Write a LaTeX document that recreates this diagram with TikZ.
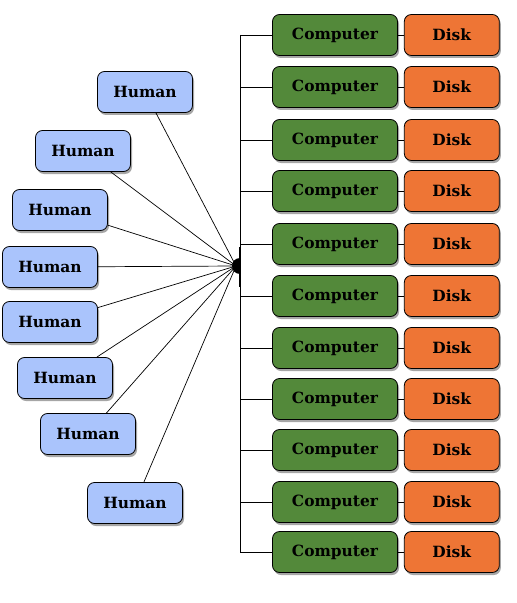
\documentclass[tikz,border=0pt]{standalone}
\usepackage{fontspec}
\setmainfont{DejaVu Serif}
\usetikzlibrary{positioning,shadows}

\definecolor{humanblue}{RGB}{170,196,252}
\definecolor{compgreen}{RGB}{83,137,58}
\definecolor{diskorange}{RGB}{238,117,53}

\tikzset{
  box/.style={draw=black, line width=0.8bp, rounded corners=7bp,
    minimum height=41bp, inner sep=0pt,
    font=\bfseries\fontsize{15.5}{18}\selectfont,
    drop shadow={shadow xshift=1.5bp, shadow yshift=-2.5bp,
      fill=black, opacity=0.35}},
  human/.style={box, fill=humanblue, minimum width=95bp},
  computer/.style={box, fill=compgreen, minimum width=125bp},
  disk/.style={box, fill=diskorange, minimum width=95bp},
  wire/.style={line width=0.7bp}
}

\begin{document}
\begin{tikzpicture}[x=1bp, y=-1bp]
          \useasboundingbox (0,0) rectangle (517,603);

          % Computers with their disks
          \node[computer] (c1) at (335,35) {Computer};
          \node[disk, right=6bp of c1] (d1) {Disk};
          \node[computer] (c2) at (335,87) {Computer};
          \node[disk, right=6bp of c2] (d2) {Disk};
          \node[computer] (c3) at (335,140) {Computer};
          \node[disk, right=6bp of c3] (d3) {Disk};
          \node[computer] (c4) at (335,191) {Computer};
          \node[disk, right=6bp of c4] (d4) {Disk};
          \node[computer] (c5) at (335,244) {Computer};
          \node[disk, right=6bp of c5] (d5) {Disk};
          \node[computer] (c6) at (335,296) {Computer};
          \node[disk, right=6bp of c6] (d6) {Disk};
          \node[computer] (c7) at (335,348) {Computer};
          \node[disk, right=6bp of c7] (d7) {Disk};
          \node[computer] (c8) at (335,399) {Computer};
          \node[disk, right=6bp of c8] (d8) {Disk};
          \node[computer] (c9) at (335,450) {Computer};
          \node[disk, right=6bp of c9] (d9) {Disk};
          \node[computer] (c10) at (335,502) {Computer};
          \node[disk, right=6bp of c10] (d10) {Disk};
          \node[computer] (c11) at (335,552) {Computer};
          \node[disk, right=6bp of c11] (d11) {Disk};

          % Humans fanned round the hub
          \node[human] (h1) at (145,92) {Human};
          \node[human] (h2) at (83,151) {Human};
          \node[human] (h3) at (60,210) {Human};
          \node[human] (h4) at (50,267) {Human};
          \node[human] (h5) at (50,322) {Human};
          \node[human] (h6) at (65,378) {Human};
          \node[human] (h7) at (88,434) {Human};
          \node[human] (h8) at (135,503) {Human};

          % Hub and bus
          \coordinate (hub) at (236,266);
          \coordinate (bus) at (240,0);
          \fill (240,258) arc[start angle=270, end angle=90, radius=8];
          \draw[line width=2.5bp] (240,247) -- (240,287);
          \draw[wire] (c1 -| bus) -- (c11 -| bus);

          \draw[wire] (c1) -- (c1 -| bus);
          \draw[wire] (c2) -- (c2 -| bus);
          \draw[wire] (c3) -- (c3 -| bus);
          \draw[wire] (c4) -- (c4 -| bus);
          \draw[wire] (c5) -- (c5 -| bus);
          \draw[wire] (c6) -- (c6 -| bus);
          \draw[wire] (c7) -- (c7 -| bus);
          \draw[wire] (c8) -- (c8 -| bus);
          \draw[wire] (c9) -- (c9 -| bus);
          \draw[wire] (c10) -- (c10 -| bus);
          \draw[wire] (c11) -- (c11 -| bus);

          \draw[wire] (c1) -- (d1);
          \draw[wire] (c2) -- (d2);
          \draw[wire] (c3) -- (d3);
          \draw[wire] (c4) -- (d4);
          \draw[wire] (c5) -- (d5);
          \draw[wire] (c6) -- (d6);
          \draw[wire] (c7) -- (d7);
          \draw[wire] (c8) -- (d8);
          \draw[wire] (c9) -- (d9);
          \draw[wire] (c10) -- (d10);
          \draw[wire] (c11) -- (d11);

          % Humans to hub
          \draw[wire] (h1) -- (hub);
          \draw[wire] (h2) -- (hub);
          \draw[wire] (h3) -- (hub);
          \draw[wire] (h4) -- (hub);
          \draw[wire] (h5) -- (hub);
          \draw[wire] (h6) -- (hub);
          \draw[wire] (h7) -- (hub);
          \draw[wire] (h8) -- (hub);

        \end{tikzpicture}
\end{document}
